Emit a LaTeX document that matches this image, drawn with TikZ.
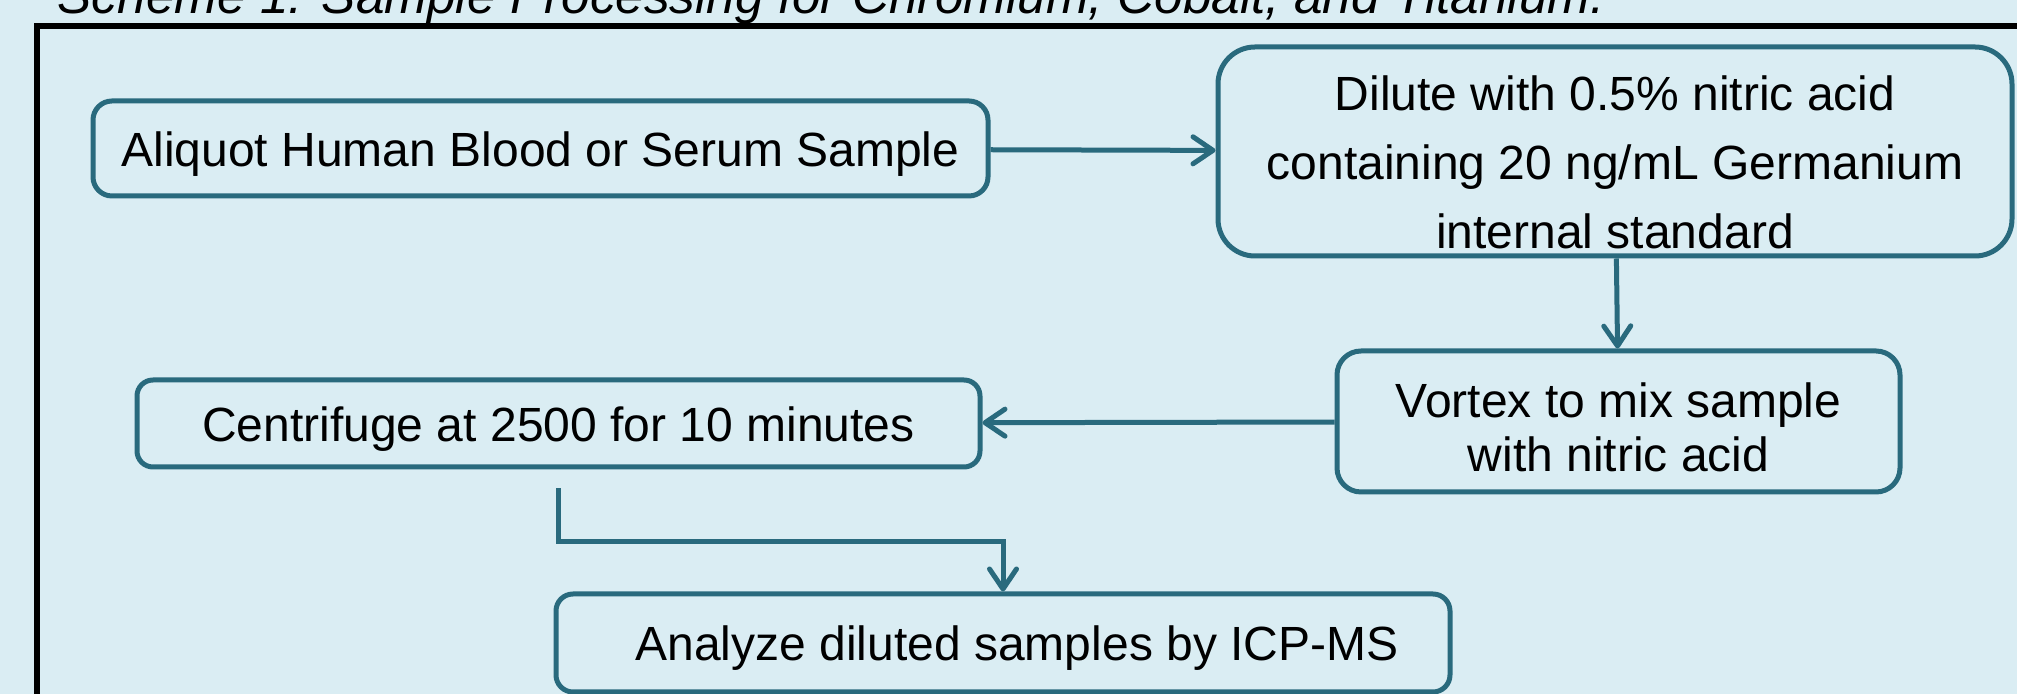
\documentclass[tikz,border=0pt]{standalone}
\usepackage{fontspec}
\setmainfont{Liberation Sans}
\usepackage{tikz}
\usetikzlibrary{positioning,arrows.meta}
\definecolor{bgblue}{RGB}{218,237,243}
\definecolor{boxteal}{RGB}{41,106,125}

\begin{document}
\begin{tikzpicture}[
		stepbox/.style={draw=boxteal,line width=0.05cm,inner sep=0pt,align=center,font=\fontsize{13.66}{19.6}\selectfont},
		flow/.style={draw=boxteal,line width=0.05cm,->},
		>={Straight Barb[length=0.2cm,width=0.27cm,round]}]
				\useasboundingbox (0,0) rectangle (20.17,-6.94);
				\clip (0,0) rectangle (20.17,-6.94);
				\fill[bgblue] (0,0) rectangle (20.17,-6.94);
				\node[anchor=base west,inner sep=0pt,font=\fontsize{14.6}{16}\selectfont\itshape] (title) at (0.57,-0.14) {Scheme 1: Sample Processing for Chromium, Cobalt, and Titanium.};
				\draw[line width=0.06cm] (0.37,-7.2) |- (20.5,-0.265);
				\node[stepbox,minimum width=8.95cm,minimum height=0.95cm,rounded corners=0.19cm] (aliquot) at (5.405,-1.485) {\rule{0pt}{0.45cm}Aliquot Human Blood or Serum Sample};
				\node[stepbox,minimum width=7.94cm,minimum height=2.09cm,rounded corners=0.37cm] (dilute) at (16.15,-1.515) {\rule{0pt}{0.57cm}Dilute with 0.5\% nitric acid\\containing 20 ng/mL Germanium\\internal standard};
				\node[stepbox,minimum width=5.63cm,minimum height=1.41cm,rounded corners=0.24cm,font=\fontsize{13.66}{15.4}\selectfont] (vortex) at (16.185,-4.215) {\rule{0pt}{0.47cm}Vortex to mix sample\\with nitric acid};
				\node[stepbox,minimum width=8.43cm,minimum height=0.87cm,rounded corners=0.16cm] (centrifuge) at (5.585,-4.235) {\rule{0pt}{0.45cm}Centrifuge at 2500 for 10 minutes};
				\node[stepbox,minimum width=8.94cm,minimum height=0.98cm,rounded corners=0.17cm] (analyze) at (10.03,-6.43) {\rule{0pt}{0.45cm}\hspace*{0.28cm}Analyze diluted samples by ICP-MS};
				\coordinate[below=0.19cm of centrifuge] (drop);
				\draw[flow] (aliquot) -- (dilute);
				\draw[flow] (dilute) -- (vortex);
				\draw[flow] (vortex) -- (centrifuge);
				\draw[flow] (drop) -- ++(0,-0.53) -| (analyze.north);
\end{tikzpicture}
\end{document}
